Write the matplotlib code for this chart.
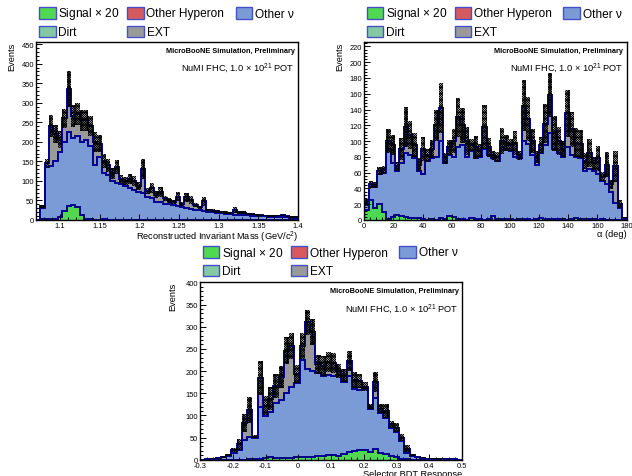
import numpy as np
import matplotlib.pyplot as plt
from matplotlib.patches import Rectangle
from matplotlib.ticker import MultipleLocator, FuncFormatter

plt.rcParams['font.family'] = ['Liberation Sans', 'DejaVu Sans']
plt.rcParams['mathtext.fontset'] = 'custom'
plt.rcParams['mathtext.rm'] = 'Liberation Sans'
plt.rcParams['mathtext.it'] = 'Liberation Sans:italic'
plt.rcParams['hatch.linewidth'] = 0.6
plt.rcParams['hatch.color'] = 'black'

# colours for the stack components
C_SIG = '#50d850'
C_HYP = '#d65a5e'
C_NU = '#7b9bd6'
C_DIRT = '#84c8a4'
C_EXT = '#9a9a9a'
C_LINE = '#000090'
C_BOX = '#4650c8'

# ---- reconstructed invariant mass, 60 bins 1.07-1.40 ----
mass_range = (1.07, 1.40)
mass_nu = [0, 30, 135, 138, 150, 175, 200, 225, 210, 215, 200, 205, 190, 140, 160,
           120, 115, 100, 95, 92, 88, 82, 78, 72, 68, 60, 55, 47, 45, 42,
           40, 38, 36, 33, 30, 28, 26, 25, 22, 20, 20, 18, 17, 16, 15,
           14, 14, 12, 12, 11, 10, 10, 9, 8, 8, 8, 8, 7, 6, 5]
mass_ext = [0, 5, 10, 102, 70, 30, 60, 110, 55, 55, 55, 50, 50, 60, 35,
            30, 25, 20, 40, 13, 12, 23, 22, 16, 62, 15, 27, 18, 27, 13,
            10, 7, 24, 9, 28, 24, 12, 7, 26, 5, 4, 4, 3, 3, 3,
            12, 6, 7, 4, 4, 3, 2, 2, 2, 2, 3, 4, 2, 2, 2]
mass_err = [0, 4, 12, 28, 22, 22, 25, 45, 28, 28, 27, 27, 26, 25, 22,
            18, 16, 14, 18, 10, 10, 12, 12, 10, 25, 8, 12, 9, 12, 7,
            6, 5, 12, 5, 12, 10, 6, 4, 12, 3, 3, 3, 3, 3, 3,
            8, 4, 4, 3, 3, 2, 2, 2, 2, 2, 2, 3, 2, 2, 2]
mass_sig = [0, 2, 2, 2, 3, 8, 22, 37, 38, 32, 12, 3, 2, 1, 1,
            2, 1, 1, 1, 0, 1, 0, 0, 1, 0, 0, 0, 0, 0, 0,
            0, 0, 0, 0, 0, 0, 0, 0, 0, 0, 0, 0, 0, 0, 0,
            0, 0, 0, 0, 0, 0, 0, 0, 0, 0, 0, 0, 0, 0, 0]
mass_dirt = [0] * 60
mass_hyp = [0] * 60

# ---- alpha angle, 60 bins of 3 deg ----
alpha_range = (0, 180)
alpha_nu = [20, 42, 42, 58, 60, 90, 72, 62, 72, 85, 82, 78, 62, 58, 75,
            78, 80, 100, 72, 82, 80, 92, 95, 80, 88, 78, 80, 90, 83, 78,
            75, 92, 90, 88, 80, 78, 100, 96, 82, 70, 85, 95, 110, 90, 85,
            80, 92, 82, 80, 78, 62, 65, 62, 58, 50, 45, 35, 22, 15, 2]
alpha_ext = [2, 3, 2, 4, 3, 10, 23, 6, 18, 33, 26, 17, 8, 32, 7,
             12, 40, 42, 6, 10, 20, 38, 25, 20, 7, 14, 8, 28, 9, 4,
             5, 8, 8, 7, 18, 4, 45, 32, 18, 10, 10, 27, 48, 20, 15,
             10, 43, 33, 18, 18, 13, 20, 10, 20, 5, 25, 10, 46, 5, 1]
alpha_err = [4, 4, 4, 5, 5, 15, 13, 6, 14, 25, 18, 15, 8, 15, 8,
             12, 20, 32, 7, 10, 15, 25, 22, 18, 8, 15, 8, 28, 12, 6,
             6, 16, 10, 8, 15, 6, 32, 28, 15, 8, 10, 25, 28, 22, 18,
             10, 30, 22, 18, 18, 10, 18, 8, 16, 6, 16, 6, 20, 5, 1]
alpha_sig = [13, 25, 15, 20, 10, 1, 4, 6, 5, 4, 3, 3, 2, 1, 0,
             1, 0, 2, 1, 5, 4, 1, 1, 0, 2, 1, 1, 0, 1, 5,
             1, 1, 1, 1, 0, 1, 1, 1, 0, 1, 3, 1, 1, 1, 1,
             1, 0, 1, 3, 1, 1, 1, 1, 0, 1, 0, 0, 0, 0, 0]
alpha_dirt = [0] * 60
alpha_hyp = [0] * 60

# ---- selector BDT response, 50 bins -0.3-0.5 ----
bdt_range = (-0.3, 0.5)
bdt_nu = [0, 1, 2, 3, 5, 8, 14, 22, 45, 52, 48, 120, 98, 108, 128,
          135, 150, 165, 172, 225, 205, 200, 195, 190, 192, 188, 192, 175, 188, 160,
          158, 160, 115, 140, 105, 95, 72, 62, 42, 15, 8, 5, 3, 2, 2,
          1, 1, 1, 1, 0]
bdt_ext = [0, 0, 0, 0, 1, 2, 8, 13, 38, 60, 4, 65, 24, 30, 38,
           52, 96, 92, 22, 32, 105, 88, 20, 22, 28, 30, 8, 15, 35, 20,
           20, 5, 5, 35, 10, 15, 8, 10, 8, 10, 2, 1, 1, 0, 0,
           1, 0, 0, 0, 0]
bdt_err = [0, 0.5, 1, 1, 1.5, 2, 5, 12, 20, 29, 4, 38, 22, 25, 27,
           25, 30, 30, 20, 30, 28, 30, 22, 22, 22, 22, 15, 15, 22, 18,
           16, 10, 5, 23, 10, 15, 8, 10, 8, 8, 2, 1, 1, 1, 1,
           1, 0.5, 0.5, 0.5, 0]
bdt_sig = [0, 0, 0, 0, 0, 0, 0, 0, 0, 1, 1, 2, 3, 5, 4,
           3, 4, 4, 5, 5, 6, 6, 8, 9, 10, 10, 8, 12, 18, 20,
           21, 22, 17, 25, 14, 12, 8, 5, 2, 1, 0, 0, 0, 0, 0,
           0, 0, 0, 0, 0]
bdt_dirt = [0] * 50
bdt_hyp = [0] * 50

W, H = 632, 477
fig = plt.figure(figsize=(W / 100, H / 100), dpi=100)


def px_axes(x0, y0, x1, y1):
    return fig.add_axes([x0 / W, 1 - y1 / H, (x1 - x0) / W, (y1 - y0) / H])


def draw_legend(x0, y0):
    """ROOT style three-column legend, positioned in pixels."""
    entries = [('Signal $\\times$ 20', C_SIG, 0, 0), ('Other Hyperon', C_HYP, 88, 0),
               ('Other ν', C_NU, 196.5, 0), ('Dirt', C_DIRT, 0, 18.4),
               ('EXT', C_EXT, 88, 18.4)]
    for label, col, dx, dy in entries:
        bx, by = x0 + dx, y0 + dy
        fig.patches.append(Rectangle((bx / W, 1 - (by + 11.7) / H), 16.5 / W, 11.7 / H,
                                     transform=fig.transFigure, facecolor=col,
                                     edgecolor=C_BOX, linewidth=1.0))
        fig.text((bx + 19.5) / W, 1 - (by + 6.2) / H, label, fontsize=8.6,
                 ha='left', va='center')


def draw_panel(ax, rng, nu, dirt, hyp, ext, err, sig, ymax, xlabel,
               xmaj, xmin, ymaj, ymin, ylab_x):
    nbins = len(nu)
    edges = np.linspace(rng[0], rng[1], nbins + 1)
    centers = 0.5 * (edges[:-1] + edges[1:])
    width = edges[1] - edges[0]

    base = np.zeros(nbins)
    for vals, col in [(nu, C_NU), (dirt, C_DIRT), (hyp, C_HYP), (ext, C_EXT)]:
        top = base + np.asarray(vals, dtype=float)
        ax.stairs(top, edges, baseline=base, fill=True, color=col, linewidth=0)
        base = top
    # outlines of the stacked histograms
    ax.stairs(np.asarray(nu, float), edges, baseline=None, color=C_LINE, linewidth=1.4)
    ax.stairs(base, edges, baseline=None, color=C_LINE, linewidth=1.4)

    # total uncertainty band
    err = np.asarray(err, float)
    ax.bar(centers, 2 * err, width=width, bottom=base - err, fill=False,
           hatch='x' * 14, edgecolor='black', linewidth=0)

    sig = np.asarray(sig, float)
    ax.stairs(sig, edges, baseline=0, fill=True, color=C_SIG, linewidth=0)
    ax.stairs(sig, edges, baseline=None, color=C_LINE, linewidth=1.4)

    ax.set_xlim(*rng)
    ax.set_ylim(0, ymax)
    ax.xaxis.set_major_locator(MultipleLocator(xmaj))
    ax.xaxis.set_minor_locator(MultipleLocator(xmin))
    ax.yaxis.set_major_locator(MultipleLocator(ymaj))
    ax.yaxis.set_minor_locator(MultipleLocator(ymin))
    ax.xaxis.set_major_formatter(FuncFormatter(lambda v, p: '%g' % round(v, 4)))
    ax.tick_params(which='both', direction='in', top=False, right=False,
                   labelsize=5.4, pad=1.5, width=0.7)
    ax.tick_params(which='major', length=4.5)
    ax.tick_params(which='minor', length=2.3)
    for s in ax.spines.values():
        s.set_linewidth(1.0)

    ax.set_xlabel(xlabel, fontsize=6.7, ha='right', va='top')
    ax.xaxis.set_label_coords(1.0, -0.05)
    ax.set_ylabel('Events', fontsize=6.7, ha='right', va='bottom')
    ax.yaxis.set_label_coords(ylab_x, 1.0)

    ax.text(0.988, 0.95, 'MicroBooNE Simulation, Preliminary', transform=ax.transAxes,
            fontsize=5.3, fontweight='bold', ha='right', va='center')
    ax.text(0.988, 0.855, 'NuMI FHC, 1.0 $\\times$ 10$^{21}$ POT', transform=ax.transAxes,
            fontsize=6.7, ha='right', va='center')


ax1 = px_axes(36, 42.7, 298, 221)
draw_panel(ax1, mass_range, mass_nu, mass_dirt, mass_hyp, mass_ext, mass_err, mass_sig,
           456, 'Reconstructed Invariant Mass (GeV/c$^{2}$)', 0.05, 0.01, 50, 10, -0.076)
draw_legend(39, 8.3)

ax2 = px_axes(364.3, 42.7, 626.5, 221)
draw_panel(ax2, alpha_range, alpha_nu, alpha_dirt, alpha_hyp, alpha_ext, alpha_err, alpha_sig,
           226, 'α (deg)', 20, 4, 20, 4, -0.076)
draw_legend(366.7, 8.3)

ax3 = px_axes(200, 283, 462, 460.7)
draw_panel(ax3, bdt_range, bdt_nu, bdt_dirt, bdt_hyp, bdt_ext, bdt_err, bdt_sig,
           401, 'Selector BDT Response', 0.1, 0.02, 50, 10, -0.088)
draw_legend(202.7, 247.3)

fig.savefig('out.png', dpi=100)
